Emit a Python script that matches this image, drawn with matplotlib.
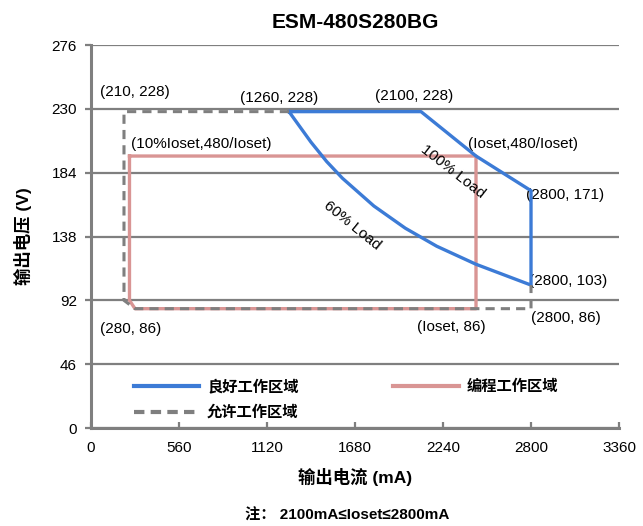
import matplotlib
matplotlib.use("Agg")
import matplotlib.pyplot as plt
from matplotlib.lines import Line2D

plt.rcParams['font.family'] = ['Liberation Sans', 'Noto Sans CJK SC', 'DejaVu Sans']

# Good working area (blue): 100% load curve on top/right, 60% load curve below
good_I = [1260, 2100, 2450, 2800, 2800, 2450, 2200, 2000, 1800, 1600, 1500, 1400, 1330, 1260]
good_V = [228, 228, 196, 171, 103, 118, 131, 144, 160, 180, 192, 206, 217, 228]

# Programming area (pink), Ioset = 2450
prog_I = [245, 2450, 2450, 280, 245, 245]
prog_V = [196, 196, 86, 86, 92, 196]

# Allowed area (gray dashed)
allow_I = [1260, 210, 210, 280, 2800, 2800]
allow_V = [228, 228, 92, 86, 86, 103]

x_ticks = [0, 560, 1120, 1680, 2240, 2800, 3360]
y_ticks = [0, 46, 92, 138, 184, 230, 276]

# point labels: (text, I, V)
labels = [
    ("(210, 228)", 57, 242),
    ("(1260, 228)", 950, 238),
    ("(2100, 228)", 1810, 239),
    ("(10%Ioset,480/Ioset)", 255, 205),
    ("(Ioset,480/Ioset)", 2400, 205),
    ("(2800, 171)", 2768, 168),
    ("(2800, 103)", 2785, 106),
    ("(2800, 86)", 2800, 79),
    ("(280, 86)", 57, 71),
    ("(Ioset, 86)", 2075, 73),
]

blue = '#3C7BD6'
pink = '#D99594'
gray = '#7F7F7F'

fig = plt.figure(figsize=(6.43, 5.26), dpi=100)
ax = fig.add_axes([0.1415, 0.1863, 0.8212, 0.7281])

ax.plot(good_I, good_V, color=blue, lw=2.4, zorder=4)
ax.plot(prog_I, prog_V, color=pink, lw=2.4, zorder=3)
ax.plot(allow_I, allow_V, color=gray, lw=2.2, ls=(0, (3, 2)), zorder=5)

ax.set_xlim(0, 3360)
ax.set_ylim(0, 276)
ax.set_xticks(x_ticks)
ax.set_yticks(y_ticks)
ax.yaxis.grid(True, color=gray, lw=1.6)
ax.set_axisbelow(True)
for s in ['top', 'right']:
    ax.spines[s].set_visible(False)
for s in ['left', 'bottom']:
    ax.spines[s].set_color(gray)
    ax.spines[s].set_linewidth(2.2)
ax.tick_params(axis='x', direction='in', length=4, width=1.6, color=gray, labelsize=11, pad=9)
ax.tick_params(axis='y', direction='out', length=4, width=1.6, color=gray, labelsize=11, pad=6)

for txt, xi, yv in labels:
    ax.text(xi, yv, txt, fontsize=11, ha='left', va='center')

ax.text(2304, 184.5, "100% Load", fontsize=11, rotation=-38, ha='center', va='center')
ax.text(1661, 146, "60% Load", fontsize=11, rotation=-39, ha='center', va='center')

handles = [
    Line2D([], [], color=blue, lw=3),
    Line2D([], [], color=gray, lw=3, ls=(0, (2.5, 1.5))),
    Line2D([], [], color=pink, lw=3),
]
names = ["良好工作区域", "允许工作区域", "编程工作区域"]
ax.legend(handles, names, ncol=2, loc='lower left', bbox_to_anchor=(0.055, -0.015),
          frameon=False, handlelength=4.3, handletextpad=0.5, columnspacing=6.2,
          labelspacing=0.75, prop={'weight': 'bold', 'size': 11})

ax.set_title("ESM-480S280BG", fontsize=15, fontweight='bold', pad=12)
ax.set_xlabel("输出电流 (mA)", fontsize=12.5, fontweight='bold', labelpad=10)
ax.set_ylabel("输出电压 (V)", fontsize=12.5, fontweight='bold', labelpad=14)
fig.text(0.54, 0.012, "注： 2100mA≤Ioset≤2800mA", fontsize=11, fontweight='bold', ha='center')

fig.savefig("out.png", dpi=100)
